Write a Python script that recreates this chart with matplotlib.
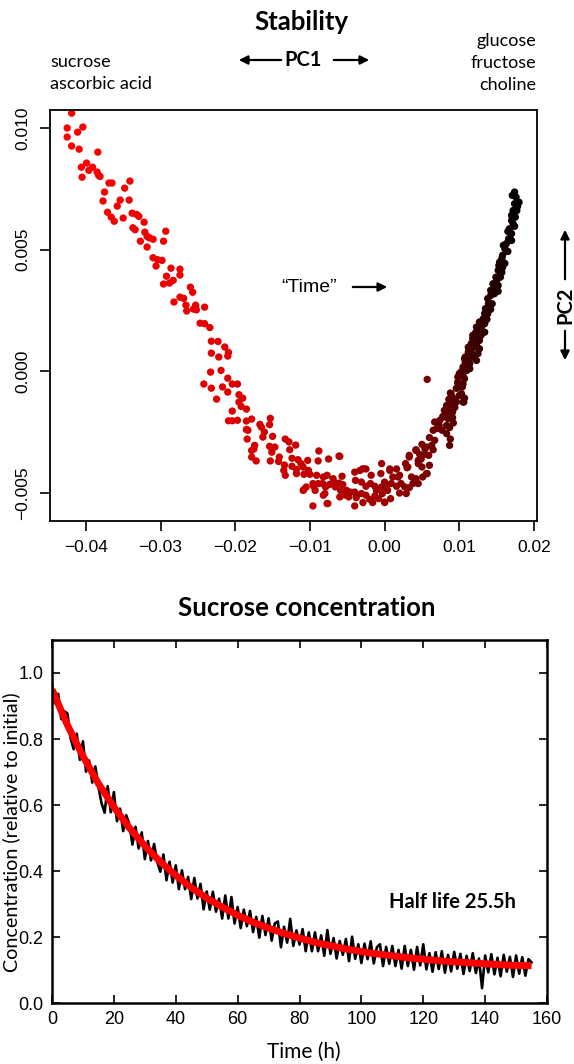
import matplotlib
matplotlib.use('Agg')
import matplotlib.pyplot as plt
import numpy as np
from matplotlib.colors import LinearSegmentedColormap
from matplotlib.patches import FancyArrowPatch

# PCA scores (PC1, PC2)
pc1 = [-0.0419, -0.0425, -0.0411, -0.0404, -0.0425, -0.0419, -0.0409, -0.0384, -0.0399, -0.0406,
       -0.0391, -0.0396, -0.0405, -0.0385, -0.0383, -0.0381, -0.0369, -0.0365, -0.0341, -0.0348,
       -0.0375, -0.0377, -0.0354, -0.0342, -0.0358, -0.0371, -0.0366, -0.0362, -0.0350, -0.0338,
       -0.0332, -0.0329, -0.0322, -0.0337, -0.0334, -0.0321, -0.0318, -0.0315, -0.0310, -0.0293,
       -0.0296, -0.0327, -0.0318, -0.0310, -0.0304, -0.0298, -0.0306, -0.0286, -0.0274, -0.0292,
       -0.0274, -0.0283, -0.0288, -0.0296, -0.0260, -0.0257, -0.0274, -0.0269, -0.0282, -0.0266,
       -0.0253, -0.0241, -0.0265, -0.0256, -0.0252, -0.0247, -0.0241, -0.0234,
       -0.0232, -0.0223, -0.0214, -0.0209, -0.0210, -0.0232, -0.0222, -0.0233, -0.0219, -0.0210,
       -0.0242, -0.0232, -0.0217, -0.0210, -0.0204, -0.0197, -0.0225, -0.0195, -0.0190, -0.0195,
       -0.0192, -0.0185, -0.0204, -0.0209, -0.0204, -0.0197, -0.0185, -0.0178, -0.0153, -0.0185,
       -0.0183, -0.0167, -0.0165, -0.0154, -0.0161, -0.0163, -0.0150, -0.0184, -0.0174, -0.0178,
       -0.0175, -0.0154, -0.0147, -0.0133, -0.0128, -0.0119, -0.0127, -0.0151, -0.0178, -0.0172,
       -0.0153, -0.0141, -0.0142, -0.0134, -0.0135, -0.0124, -0.0116, -0.0124, -0.0118, -0.0112,
       -0.0109, -0.0103, -0.0102, -0.0089, -0.0088, -0.0075, -0.0060, -0.0133, -0.0118, -0.0108,
       -0.0100, -0.0091, -0.0082, -0.0077, -0.0069, -0.0057, -0.0108, -0.0105, -0.0095, -0.0089,
       -0.0083, -0.0079, -0.0074, -0.0093, -0.0082, -0.0096, -0.0077, -0.0068, -0.0066, -0.0061,
       -0.0056, -0.0059, -0.0053, -0.0048, -0.0046, -0.0040, -0.0038, -0.0040, -0.0033, -0.0025,
       -0.0039, -0.0031, -0.0025, -0.0019, -0.0013, -0.0031, -0.0025, -0.0029, -0.0020, -0.0013,
       -0.0008, -0.0016, -0.0005, -0.0004, -0.0004, 0.0000, 0.0004, -0.0003, 0.0007, 0.0016,
       0.0011, 0.0018, 0.0009, 0.0016, 0.0022, 0.0027, 0.0033, 0.0029, 0.0020, 0.0008,
       0.0000, 0.0028, 0.0030, 0.0036, 0.0042, 0.0045, 0.0038, 0.0033, 0.0042, 0.0047,
       0.0045, 0.0050, 0.0057, 0.0051, 0.0049, 0.0054, 0.0060, 0.0059, 0.0056, 0.0063,
       0.0065, 0.0050, 0.0060, 0.0067, 0.0065, 0.0070, 0.0073, 0.0077, 0.0083, 0.0087,
       0.0088, 0.0074, 0.0067, 0.0083, 0.0078, 0.0085, 0.0091, 0.0092, 0.0087, 0.0080,
       0.0085, 0.0091, 0.0083, 0.0096, 0.0105, 0.0107, 0.0091, 0.0088, 0.0103, 0.0100,
       0.0098, 0.0105, 0.0098, 0.0105, 0.0109, 0.0114, 0.0112, 0.0108, 0.0118, 0.0116,
       0.0125, 0.0123, 0.0118, 0.0127, 0.0129, 0.0134, 0.0057, 0.0113, 0.0123, 0.0127,
       0.0174, 0.0176, 0.0180, 0.0174, 0.0172, 0.0177, 0.0170, 0.0175, 0.0172, 0.0167,
       0.0170, 0.0166, 0.0163, 0.0161, 0.0158, 0.0154, 0.0158, 0.0152, 0.0149, 0.0155,
       0.0145, 0.0152, 0.0142, 0.0147, 0.0138, 0.0144, 0.0135, 0.0138, 0.0132, 0.0127,
       0.0134, 0.0123, 0.0127, 0.0118, 0.0125, 0.0116, 0.0123, 0.0112, 0.0118, 0.0107,
       0.0114, 0.0105, 0.0110, 0.0100, 0.0107, 0.0098, 0.0104, 0.0089, 0.0100, 0.0095,
       0.0106, 0.0087, 0.0083, 0.0078,
       0.0171, 0.0178, 0.0173, 0.0170, 0.0174, 0.0165, 0.0170, 0.0159, 0.0165, 0.0157,
       0.0161, 0.0153, 0.0157, 0.0150, 0.0146, 0.0152, 0.0142, 0.0139, 0.0142, 0.0134,
       0.0137, 0.0130, 0.0122, 0.0121, 0.0112, 0.0108, 0.0103, 0.0096, 0.0091, 0.0094,
       0.0086,
       -0.0061, -0.0096, -0.0069, -0.0040, -0.0029, -0.0018, 0.0007, 0.0020, 0.0031, 0.0033,
       0.0042, 0.0054, 0.0045, 0.0056, -0.0051, -0.0038, -0.0011, 0.0002, -0.0080, -0.0060,
       -0.0109, -0.0076, 0.0000]

pc2 = [0.01061, 0.01000, 0.00983, 0.01004, 0.00963, 0.00926, 0.00913, 0.00901, 0.00856, 0.00839,
       0.00839, 0.00826, 0.00798, 0.00819, 0.00806, 0.00801, 0.00774, 0.00774, 0.00782, 0.00753,
       0.00737, 0.00700, 0.00704, 0.00704, 0.00679, 0.00654, 0.00634, 0.00617, 0.00630, 0.00650,
       0.00645, 0.00637, 0.00613, 0.00590, 0.00582, 0.00572, 0.00555, 0.00549, 0.00543, 0.00576,
       0.00535, 0.00535, 0.00511, 0.00467, 0.00459, 0.00456, 0.00433, 0.00424, 0.00420, 0.00391,
       0.00396, 0.00374, 0.00363, 0.00359, 0.00346, 0.00325, 0.00305, 0.00300, 0.00285, 0.00272,
       0.00272, 0.00264, 0.00248, 0.00256, 0.00253, 0.00198, 0.00196, 0.00180,
       0.00124, 0.00123, 0.00100, 0.00078, 0.00063, 0.00075, 0.00059, -0.00003, 0.00004, -0.00028,
       -0.00052, -0.00069, -0.00064, -0.00085, -0.00052, -0.00052, -0.00114, -0.00096, -0.00110, -0.00126,
       -0.00144, -0.00155, -0.00163, -0.00203, -0.00203, -0.00201, -0.00204, -0.00196, -0.00193, -0.00239,
       -0.00242, -0.00218, -0.00229, -0.00219, -0.00249, -0.00270, -0.00267, -0.00278, -0.00304, -0.00325,
       -0.00319, -0.00308, -0.00311, -0.00278, -0.00290, -0.00303, -0.00322, -0.00332, -0.00352, -0.00368,
       -0.00368, -0.00352, -0.00370, -0.00385, -0.00407, -0.00357, -0.00363, -0.00390, -0.00403, -0.00379,
       -0.00393, -0.00366, -0.00407, -0.00368, -0.00327, -0.00360, -0.00349, -0.00427, -0.00420, -0.00423,
       -0.00423, -0.00427, -0.00434, -0.00427, -0.00441, -0.00431, -0.00485, -0.00475, -0.00472, -0.00461,
       -0.00461, -0.00475, -0.00465, -0.00489, -0.00509, -0.00553, -0.00543, -0.00455, -0.00475, -0.00459,
       -0.00465, -0.00489, -0.00508, -0.00516, -0.00496, -0.00496, -0.00519, -0.00553, -0.00407, -0.00401,
       -0.00448, -0.00455, -0.00472, -0.00461, -0.00472, -0.00502, -0.00509, -0.00539, -0.00526, -0.00512,
       -0.00523, -0.00539, -0.00420, -0.00379, -0.00475, -0.00455, -0.00489, -0.00502, -0.00401, -0.00401,
       -0.00434, -0.00434, -0.00461, -0.00472, -0.00461, -0.00475, -0.00478, -0.00502, -0.00500, -0.00523,
       -0.00539, -0.00379, -0.00396, -0.00434, -0.00441, -0.00461, -0.00461, -0.00352, -0.00322, -0.00341,
       -0.00379, -0.00393, -0.00420, -0.00434, -0.00360, -0.00341, -0.00386, -0.00345, -0.00311, -0.00304,
       -0.00322, -0.00300, -0.00272, -0.00283, -0.00242, -0.00235, -0.00222, -0.00242, -0.00256, -0.00304,
       -0.00278, -0.00201, -0.00208, -0.00222, -0.00185, -0.00194, -0.00190, -0.00212, -0.00231, -0.00160,
       -0.00167, -0.00167, -0.00140, -0.00126, -0.00126, -0.00110, -0.00126, -0.00089, -0.00092, -0.00064,
       -0.00048, -0.00051, -0.00023, -0.00016, 0.00004, 0.00011, 0.00032, 0.00059, 0.00059, 0.00086,
       0.00073, 0.00107, 0.00134, 0.00127, 0.00148, 0.00161, -0.00033, 0.00048, 0.00045, 0.00093,
       0.00737, 0.00716, 0.00695, 0.00689, 0.00661, 0.00661, 0.00641, 0.00634, 0.00607, 0.00586,
       0.00566, 0.00545, 0.00525, 0.00504, 0.00477, 0.00449, 0.00428, 0.00415, 0.00387, 0.00387,
       0.00360, 0.00353, 0.00333, 0.00319, 0.00299, 0.00278, 0.00258, 0.00237, 0.00216, 0.00203,
       0.00196, 0.00182, 0.00161, 0.00148, 0.00134, 0.00114, 0.00100, 0.00079, 0.00066, 0.00052,
       0.00032, 0.00018, 0.00004, -0.00009, -0.00030, -0.00044, -0.00064, -0.00092, -0.00099, -0.00119,
       -0.00126, -0.00140, -0.00160, -0.00188,
       0.00723, 0.00678, 0.00649, 0.00620, 0.00596, 0.00575, 0.00538, 0.00518, 0.00493, 0.00464,
       0.00444, 0.00435, 0.00407, 0.00374, 0.00341, 0.00329, 0.00312, 0.00279, 0.00255, 0.00238,
       0.00214, 0.00185, 0.00160, 0.00123, 0.00099, 0.00037, 0.00000, -0.00070, -0.00107, -0.00148,
       -0.00115,
       -0.00348, -0.00461, -0.00461, -0.00414, -0.00400, -0.00427, -0.00407, -0.00427, -0.00393, -0.00345,
       -0.00325, -0.00318, -0.00366, -0.00420, -0.00489, -0.00509, -0.00489, -0.00475, -0.00502, -0.00516,
       -0.00489, -0.00543, -0.00537]

left_words = ['sucrose', 'ascorbic acid']
right_words = ['glucose', 'fructose', 'choline']

# sucrose time course (hours, fraction of initial)
time_h = list(range(0, 156))
sucrose = [0.965, 0.908, 0.937, 0.860, 0.884, 0.877, 0.803, 0.769, 0.816, 0.737,
           0.793, 0.701, 0.735, 0.668, 0.717, 0.655, 0.606, 0.577, 0.657, 0.578,
           0.639, 0.551, 0.589, 0.521, 0.569, 0.541, 0.480, 0.534, 0.468, 0.517,
           0.436, 0.491, 0.432, 0.482, 0.428, 0.398, 0.450, 0.372, 0.428, 0.365,
           0.417, 0.345, 0.402, 0.345, 0.382, 0.315, 0.379, 0.317, 0.361, 0.284,
           0.338, 0.283, 0.337, 0.277, 0.316, 0.256, 0.326, 0.256, 0.321, 0.241,
           0.291, 0.227, 0.283, 0.233, 0.279, 0.215, 0.261, 0.198, 0.264, 0.206,
           0.257, 0.189, 0.241, 0.247, 0.169, 0.231, 0.183, 0.255, 0.173, 0.220,
           0.177, 0.224, 0.157, 0.214, 0.157, 0.214, 0.157, 0.205, 0.143, 0.221,
           0.149, 0.197, 0.135, 0.188, 0.146, 0.194, 0.127, 0.201, 0.134, 0.178,
           0.121, 0.180, 0.133, 0.187, 0.120, 0.169, 0.178, 0.112, 0.170, 0.119,
           0.173, 0.112, 0.161, 0.104, 0.173, 0.112, 0.161, 0.101, 0.170, 0.114,
           0.178, 0.102, 0.151, 0.095, 0.154, 0.103, 0.157, 0.092, 0.146, 0.096,
           0.155, 0.104, 0.149, 0.088, 0.143, 0.097, 0.151, 0.091, 0.135, 0.045,
           0.144, 0.093, 0.148, 0.087, 0.137, 0.081, 0.146, 0.095, 0.140, 0.079,
           0.144, 0.089, 0.139, 0.083, 0.133, 0.123]

# exponential fit (half life 25.5 h)
fit_h = [0, 5, 10, 15, 20, 25, 30, 35, 40, 45, 50, 55, 60, 65, 70, 75,
         80, 85, 90, 95, 100, 105, 110, 115, 120, 125, 130, 135, 140, 145, 150, 155]
fit_val = [0.950, 0.842, 0.748, 0.665, 0.594, 0.531, 0.476, 0.428, 0.387, 0.350, 0.318,
           0.291, 0.266, 0.245, 0.227, 0.211, 0.197, 0.184, 0.174, 0.164, 0.156, 0.149,
           0.143, 0.137, 0.133, 0.128, 0.125, 0.122, 0.119, 0.116, 0.114, 0.113]

MYR = ['Lato', 'DejaVu Sans']
ARL = ['Liberation Sans', 'DejaVu Sans']
H = 1064.0
W = 574.0

fig = plt.figure(figsize=(5.74, 10.64), dpi=100)


def fx(px):
    return px / W


def fy(py):
    return 1 - py / H


def arrow(p0, p1):
    fig.add_artist(FancyArrowPatch((fx(p0[0]), fy(p0[1])), (fx(p1[0]), fy(p1[1])),
                                   transform=fig.transFigure, arrowstyle='-|>',
                                   color='black', lw=1.6, mutation_scale=13))


# ---- top: PCA scatter ----
ax = fig.add_axes([0.0871, 0.5103, 0.8484, 0.3863])
x = np.array(pc1)
y = np.array(pc2)
order = np.argsort(x)
cmap = LinearSegmentedColormap.from_list('rb', [
    (0.0, '#ff0000'), (0.30, '#e80000'), (0.54, '#c40000'), (0.69, '#a00000'),
    (0.79, '#7a0000'), (0.87, '#500000'), (0.93, '#2a0000'), (1.0, '#000000')])
norm = plt.Normalize(-0.0430, 0.0182)
ax.scatter(x[order], y[order], s=28, c=x[order], cmap=cmap, norm=norm,
           linewidths=0)
ax.set_xlim(-0.0448, 0.0204)
ax.set_ylim(-0.00615, 0.01074)
ax.set_xticks([-0.04, -0.03, -0.02, -0.01, 0.0, 0.01, 0.02])
ax.set_xticklabels(['\u22120.04', '\u22120.03', '\u22120.02', '\u22120.01', '0.00', '0.01', '0.02'],
                   family=ARL, fontsize=12.5)
ax.set_yticks([-0.005, 0.0, 0.005, 0.010])
ax.set_yticklabels(['\u22120.005', '0.000', '0.005', '0.010'], family=ARL, fontsize=12.5,
                   rotation=90, va='center')
ax.tick_params(direction='out', length=7, width=1.2, pad=7)
for sp in ax.spines.values():
    sp.set_linewidth(1.3)

fig.text(fx(301), fy(22), 'Stability', ha='center', va='center', family=MYR,
         fontsize=18.5, fontweight='bold')
fig.text(fx(303), fy(60), 'PC1', ha='center', va='center', family=MYR,
         fontsize=14.5, fontweight='bold')
arrow((284, 60), (236, 60))
arrow((331, 60), (372, 60))
for i, w in enumerate(left_words):
    fig.text(fx(50), fy(67 + 22 * i), w, ha='left', va='baseline', family=MYR, fontsize=13)
for i, w in enumerate(right_words):
    fig.text(fx(536), fy(46 + 22 * i), w, ha='right', va='baseline', family=MYR, fontsize=13)
fig.text(fx(309), fy(287), '\u201cTime\u201d', ha='center', va='center', family=ARL,
         fontsize=14)
arrow((350, 287), (390, 287))
fig.text(fx(565), fy(305), 'PC2', ha='center', va='center', rotation=90, family=MYR,
         fontsize=14.5, fontweight='bold')
arrow((565, 282), (565, 227))
arrow((565, 328), (565, 363))

# ---- bottom: sucrose decay ----
ax2 = fig.add_axes([0.0906, 0.0573, 0.8624, 0.3412])
ax2.plot(time_h, sucrose, color='black', lw=1.9)
ax2.plot(fit_h, fit_val, color='red', lw=5, solid_capstyle='butt')
ax2.set_xlim(0, 160)
ax2.set_ylim(0, 1.1)
ax2.set_xticks(range(0, 161, 20))
ax2.set_yticks([0.0, 0.2, 0.4, 0.6, 0.8, 1.0])
ax2.set_yticklabels(['0.0', '0.2', '0.4', '0.6', '0.8', '1.0'])
ax2.tick_params(direction='in', length=6, width=1.2, top=True, right=True,
                labelsize=13, pad=6)
for lab in ax2.get_xticklabels() + ax2.get_yticklabels():
    lab.set_family(ARL)
for sp in ax2.spines.values():
    sp.set_linewidth(1.8)
fig.text(fx(307), fy(608), 'Sucrose concentration', ha='center', va='center', family=MYR,
         fontsize=18.5, fontweight='bold')
ax2.text(129.5, 0.306, 'Half life 25.5h', ha='center', va='center', family=MYR,
         fontsize=14.5, fontweight='bold')
fig.text(fx(304), fy(1052), 'Time (h)', ha='center', va='center', family=MYR, fontsize=15)
fig.text(fx(11), fy(832), 'Concentration (relative to initial)', ha='center', va='center',
         rotation=90, family=MYR, fontsize=14.2)

fig.savefig('out.png', dpi=100)
